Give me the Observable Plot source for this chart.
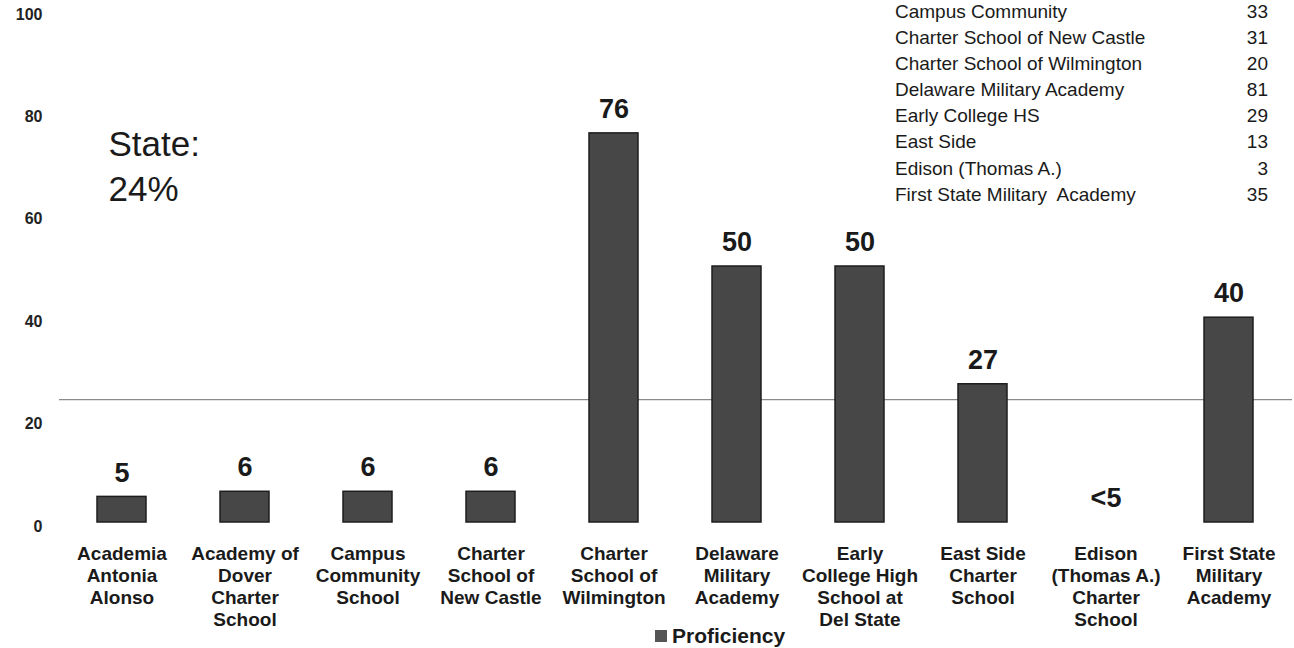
<!DOCTYPE html>
<html>
<head>
<meta charset="utf-8">
<script src="https://cdn.jsdelivr.net/npm/d3@7"></script>
<script src="https://cdn.jsdelivr.net/npm/@observablehq/plot@0.6"></script>
<style>
  html, body { margin: 0; padding: 0; background: #fff; }
  body { font-family: "Liberation Sans", Arial, sans-serif; color: #1a1a1a; }
  #wrap { position: relative; width: 1294px; height: 648px; overflow: hidden; }
  #table { position: absolute; left: 895px; top: -1px; width: 373px; font-size: 19px; line-height: 26.1px; }
  #table .row { display: flex; justify-content: space-between; white-space: pre; }
  #legend { position: absolute; left: 655px; top: 624px; font-size: 21px; font-weight: bold; display: flex; align-items: center; white-space: nowrap; }
  #legend .sw { width: 12px; height: 12px; background: #555; margin-right: 5px; }
</style>
</head>
<body>
<div id="wrap">
  <div id="chart"></div>
  <div id="table"></div>
  <div id="legend"></div>
</div>
<script>
const schools = [
  "Academia Antonia Alonso",
  "Academy of Dover Charter School",
  "Campus Community School",
  "Charter School of New Castle",
  "Charter School of Wilmington",
  "Delaware Military Academy",
  "Early College High School at Del State",
  "East Side Charter School",
  "Edison (Thomas A.) Charter School",
  "First State Military Academy"
];
const axisLabels = [
  "Academia\nAntonia\nAlonso",
  "Academy of\nDover\nCharter\nSchool",
  "Campus\nCommunity\nSchool",
  "Charter\nSchool of\nNew Castle",
  "Charter\nSchool of\nWilmington",
  "Delaware\nMilitary\nAcademy",
  "Early\nCollege High\nSchool at\nDel State",
  "East Side\nCharter\nSchool",
  "Edison\n(Thomas A.)\nCharter\nSchool",
  "First State\nMilitary\nAcademy"
];
const proficiency = [5, 6, 6, 6, 76, 50, 50, 27, null, 40];
const valueLabels = ["5", "6", "6", "6", "76", "50", "50", "27", "<5", "40"];
const stateValue = 24;
const stateText = "State:\n24%";
const yTicks = [0, 20, 40, 60, 80, 100];
const seriesName = "Proficiency";

const tableNames = [
  "Campus Community",
  "Charter School of New Castle",
  "Charter School of Wilmington",
  "Delaware Military Academy",
  "Early College HS",
  "East Side",
  "Edison (Thomas A.)",
  "First State Military  Academy"
];
const tableValues = [33, 31, 20, 81, 29, 13, 3, 35];

const data = schools.map((s, i) => ({
  school: s,
  label: axisLabels[i],
  value: proficiency[i],
  valueLabel: valueLabels[i],
  labelY: proficiency[i] == null ? 0 : proficiency[i]
}));

const font = "'Liberation Sans', Arial, sans-serif";

const chart = Plot.plot({
  width: 1294,
  height: 648,
  marginLeft: 59,
  marginRight: 2,
  marginTop: 10,
  marginBottom: 126,
  style: { fontFamily: font, color: "#1a1a1a", background: "white" },
  x: { domain: schools, paddingInner: 0.6, paddingOuter: 0.3, axis: null },
  y: { domain: [0, 100], axis: null },
  marks: [
    Plot.ruleY([stateValue], { stroke: "#8a8a8a", strokeWidth: 1.3 }),
    Plot.barY(data.filter(d => d.value != null), {
      x: "school", y: "value", fill: "#474747", stroke: "#1e1e1e", strokeWidth: 1.5
    }),
    Plot.axisY(yTicks, {
      tickSize: 0, tickPadding: 17, fontSize: 16, fontWeight: "bold", dy: 4, fill: "#222", label: null
    }),
    Plot.text(data, {
      x: "school", y: "labelY", text: "valueLabel", dy: -24,
      fontSize: 27, fontWeight: "bold", fill: "#1a1a1a"
    }),
    Plot.text(data, {
      x: "school", text: "label", frameAnchor: "bottom", lineAnchor: "top", dy: 22,
      fontSize: 19, fontWeight: "bold", lineHeight: 1.16, fill: "#1a1a1a"
    }),
    Plot.text([stateText], {
      text: d => d, frameAnchor: "top-left", textAnchor: "start", lineAnchor: "top",
      dx: 49, dy: 113, fontSize: 35, lineHeight: 1.3, fill: "#1a1a1a"
    })
  ]
});
document.getElementById("chart").appendChild(chart);

const table = document.getElementById("table");
tableNames.forEach((n, i) => {
  const row = document.createElement("div");
  row.className = "row";
  const a = document.createElement("span"); a.textContent = n;
  const b = document.createElement("span"); b.textContent = String(tableValues[i]);
  row.appendChild(a); row.appendChild(b);
  table.appendChild(row);
});

const legend = document.getElementById("legend");
const sw = document.createElement("span"); sw.className = "sw";
const lt = document.createElement("span"); lt.textContent = seriesName;
legend.appendChild(sw); legend.appendChild(lt);
</script>
</body>
</html>
